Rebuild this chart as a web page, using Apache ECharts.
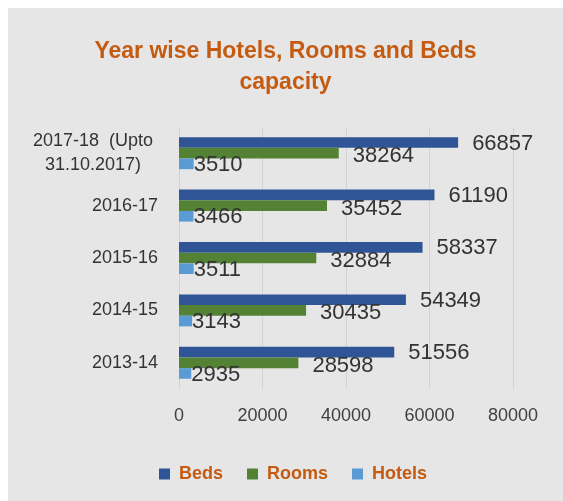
<!DOCTYPE html>
<html>
<head>
<meta charset="utf-8">
<script src="https://cdn.jsdelivr.net/npm/echarts@6/dist/echarts.min.js"></script>
<style>
  html, body { margin: 0; padding: 0; background: #fff; }
  #chart { position: absolute; left: 8px; top: 8px; width: 555px; height: 493px; }
</style>
</head>
<body>
<div id="chart"></div>
<script>
// data (bottom to top on the axis)
const years = ['2013-14', '2014-15', '2015-16', '2016-17', '2017-18  (Upto\n31.10.2017)']
const beds = [51556, 54349, 58337, 61190, 66857]
const rooms = [28598, 30435, 32884, 35452, 38264]
const hotels = [2935, 3143, 3511, 3466, 3510]
const ticks = [0, 20000, 40000, 60000, 80000]

const myChart = echarts.init(document.getElementById('chart'))
const font = 'Liberation Sans, Arial, sans-serif'
const orange = '#c55a11'

// label next to the end of each bar
function barLabel (dist, dy) {
  return {
    show: true,
    position: 'right',
    distance: dist,
    offset: [0, dy],
    color: '#333',
    fontSize: 22,
    fontFamily: font
  }
}

const opt = {
  backgroundColor: '#e6e6e6',
  title: {
    text: 'Year wise Hotels, Rooms and Beds\ncapacity',
    left: 'center',
    top: 23,
    textStyle: {
      color: orange,
      fontSize: 23,
      fontWeight: 'bold',
      fontFamily: font,
      lineHeight: 31
    }
  },
  legend: {
    data: ['Beds', 'Rooms', 'Hotels'],
    left: 146,
    top: 452,
    itemWidth: 11,
    itemHeight: 11,
    itemGap: 24,
    icon: 'rect',
    textStyle: {
      color: orange,
      fontSize: 18,
      fontWeight: 'bold',
      fontFamily: font,
      padding: [0, 0, 0, 4]
    }
  },
  grid: {
    left: 171,
    right: 50,
    top: 119,
    bottom: 112,
    containLabel: false
  },
  xAxis: {
    type: 'value',
    min: ticks[0],
    max: ticks[ticks.length - 1],
    interval: ticks[1] - ticks[0],
    axisLine: { show: false },
    axisTick: { show: false },
    splitLine: { lineStyle: { color: '#d2d2d2', width: 1 } },
    axisLabel: {
      margin: 18,
      color: '#404040',
      fontSize: 18,
      fontFamily: font,
      formatter: function (v) { return String(v) }
    }
  },
  yAxis: {
    type: 'category',
    data: years,
    axisLine: { show: false },
    axisTick: { show: false },
    axisLabel: {
      margin: 21,
      color: '#333',
      fontSize: 18,
      fontFamily: font,
      formatter: function (v) {
        if (v.indexOf('\n') < 0) return v
        const parts = v.split('\n')
        return '{c|' + parts[0] + '}\n{c|' + parts[1] + '}'
      },
      rich: {
        c: {
          width: 130,
          align: 'center',
          fontSize: 18,
          lineHeight: 24,
          color: '#333',
          fontFamily: font
        }
      }
    }
  },
  series: [
    {
      name: 'Beds',
      type: 'bar',
      barGap: '0%',
      barCategoryGap: '39%',
      itemStyle: { color: '#2f5597' },
      label: barLabel(14, 1),
      data: beds
    },
    {
      name: 'Rooms',
      type: 'bar',
      barGap: '0%',
      barCategoryGap: '39%',
      itemStyle: { color: '#548235' },
      label: barLabel(14, 3),
      data: rooms
    },
    {
      name: 'Hotels',
      type: 'bar',
      barGap: '0%',
      barCategoryGap: '39%',
      itemStyle: { color: '#5b9bd5' },
      label: barLabel(0, 1),
      data: hotels
    }
  ]
}
myChart.setOption(opt)
</script>
</body>
</html>
